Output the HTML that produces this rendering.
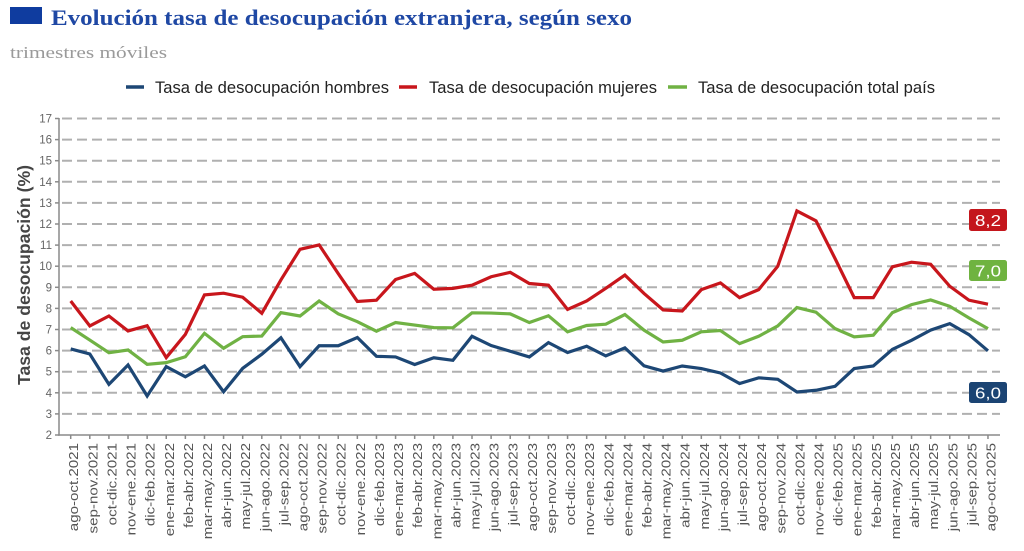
<!DOCTYPE html>
<html><head><meta charset="utf-8"><style>
html,body{margin:0;padding:0;background:#fff;}
svg{display:block;}
</style></head><body>
<svg width="1024" height="551" viewBox="0 0 1024 551" xmlns="http://www.w3.org/2000/svg">
<rect x="0" y="0" width="1024" height="551" fill="#fff"/>
<!-- title -->
<rect x="10" y="7" width="32" height="17" fill="#0f3c9f"/>
<text x="51" y="25" font-family="Liberation Serif, serif" font-weight="bold" font-size="22" fill="#1f48a4" textLength="581" lengthAdjust="spacingAndGlyphs">Evolución tasa de desocupación extranjera, según sexo</text>
<text x="10" y="58" font-family="Liberation Serif, serif" font-size="17" fill="#9a9a9a" textLength="157" lengthAdjust="spacingAndGlyphs">trimestres móviles</text>
<!-- legend -->
<g font-family="Liberation Sans, sans-serif" font-size="16.4" fill="#222">
<line x1="126" y1="87" x2="144" y2="87" stroke="#1d4775" stroke-width="3.5"/>
<text x="155" y="93" textLength="234" lengthAdjust="spacingAndGlyphs">Tasa de desocupación hombres</text>
<line x1="399" y1="87" x2="417" y2="87" stroke="#c8161c" stroke-width="3.5"/>
<text x="429" y="93" textLength="228" lengthAdjust="spacingAndGlyphs">Tasa de desocupación mujeres</text>
<line x1="668" y1="87" x2="687" y2="87" stroke="#70b244" stroke-width="3.5"/>
<text x="698" y="93" textLength="237" lengthAdjust="spacingAndGlyphs">Tasa de desocupación total país</text>
</g>
<!-- y title -->
<text transform="translate(30,275) rotate(-90)" text-anchor="middle" font-family="Liberation Sans, sans-serif" font-weight="bold" font-size="17.5" fill="#454545" textLength="220" lengthAdjust="spacingAndGlyphs">Tasa de desocupación (%)</text>
<!-- gridlines -->
<g stroke="#b0b0b0" stroke-width="2" stroke-dasharray="10,5">
<line x1="62" x2="1000" y1="118.5" y2="118.5"/>
<line x1="62" x2="1000" y1="139.6" y2="139.6"/>
<line x1="62" x2="1000" y1="160.7" y2="160.7"/>
<line x1="62" x2="1000" y1="181.8" y2="181.8"/>
<line x1="62" x2="1000" y1="202.9" y2="202.9"/>
<line x1="62" x2="1000" y1="224.0" y2="224.0"/>
<line x1="62" x2="1000" y1="245.1" y2="245.1"/>
<line x1="62" x2="1000" y1="266.2" y2="266.2"/>
<line x1="62" x2="1000" y1="287.3" y2="287.3"/>
<line x1="62" x2="1000" y1="308.4" y2="308.4"/>
<line x1="62" x2="1000" y1="329.5" y2="329.5"/>
<line x1="62" x2="1000" y1="350.6" y2="350.6"/>
<line x1="62" x2="1000" y1="371.7" y2="371.7"/>
<line x1="62" x2="1000" y1="392.8" y2="392.8"/>
<line x1="62" x2="1000" y1="413.9" y2="413.9"/>
</g>
<!-- axes -->
<g stroke="#8a8a8a" stroke-width="1.5">
<line x1="59" y1="118" x2="59" y2="435.8"/>
<line x1="58.3" y1="435" x2="1000" y2="435"/>
<line x1="55" x2="59" y1="118.5" y2="118.5"/><line x1="55" x2="59" y1="139.6" y2="139.6"/><line x1="55" x2="59" y1="160.7" y2="160.7"/><line x1="55" x2="59" y1="181.8" y2="181.8"/><line x1="55" x2="59" y1="202.9" y2="202.9"/><line x1="55" x2="59" y1="224" y2="224"/><line x1="55" x2="59" y1="245.1" y2="245.1"/><line x1="55" x2="59" y1="266.2" y2="266.2"/><line x1="55" x2="59" y1="287.3" y2="287.3"/><line x1="55" x2="59" y1="308.4" y2="308.4"/><line x1="55" x2="59" y1="329.5" y2="329.5"/><line x1="55" x2="59" y1="350.6" y2="350.6"/><line x1="55" x2="59" y1="371.7" y2="371.7"/><line x1="55" x2="59" y1="392.8" y2="392.8"/><line x1="55" x2="59" y1="413.9" y2="413.9"/><line x1="55" x2="59" y1="435" y2="435"/>
</g>
<g transform="translate(70.7,435) scale(19.11,1)" stroke="#8a8a8a" stroke-width="1.5">
<path vector-effect="non-scaling-stroke" d="M0,0V4M1,0V4M2,0V4M3,0V4M4,0V4M5,0V4M6,0V4M7,0V4M8,0V4M9,0V4M10,0V4M11,0V4M12,0V4M13,0V4M14,0V4M15,0V4M16,0V4M17,0V4M18,0V4M19,0V4M20,0V4M21,0V4M22,0V4M23,0V4M24,0V4M25,0V4M26,0V4M27,0V4M28,0V4M29,0V4M30,0V4M31,0V4M32,0V4M33,0V4M34,0V4M35,0V4M36,0V4M37,0V4M38,0V4M39,0V4M40,0V4M41,0V4M42,0V4M43,0V4M44,0V4M45,0V4M46,0V4M47,0V4M48,0V4"/>
</g>
<!-- y tick labels -->
<g font-family="Liberation Sans, sans-serif" font-size="11.5" fill="#666" text-anchor="end">
<text x="52" y="122.5">17</text><text x="52" y="143.6">16</text><text x="52" y="164.7">15</text><text x="52" y="185.8">14</text><text x="52" y="206.9">13</text><text x="52" y="228">12</text><text x="52" y="249.1">11</text><text x="52" y="270.2">10</text><text x="52" y="291.3">9</text><text x="52" y="312.4">8</text><text x="52" y="333.5">7</text><text x="52" y="354.6">6</text><text x="52" y="375.7">5</text><text x="52" y="396.8">4</text><text x="52" y="417.9">3</text><text x="52" y="439">2</text>
</g>
<!-- x labels -->
<g font-family="Liberation Sans, sans-serif" font-size="12.5" fill="#555" text-anchor="end">
<text transform="translate(78.2,443) rotate(-90) scale(1.21,1)">ago-oct.2021</text>
<text transform="translate(97.3,443) rotate(-90) scale(1.21,1)">sep-nov.2021</text>
<text transform="translate(116.4,443) rotate(-90) scale(1.21,1)">oct-dic.2021</text>
<text transform="translate(135.5,443) rotate(-90) scale(1.21,1)">nov-ene.2021</text>
<text transform="translate(154.6,443) rotate(-90) scale(1.21,1)">dic-feb.2022</text>
<text transform="translate(173.8,443) rotate(-90) scale(1.21,1)">ene-mar.2022</text>
<text transform="translate(192.9,443) rotate(-90) scale(1.21,1)">feb-abr.2022</text>
<text transform="translate(212.0,443) rotate(-90) scale(1.21,1)">mar-may.2022</text>
<text transform="translate(231.1,443) rotate(-90) scale(1.21,1)">abr-jun.2022</text>
<text transform="translate(250.2,443) rotate(-90) scale(1.21,1)">may-jul.2022</text>
<text transform="translate(269.3,443) rotate(-90) scale(1.21,1)">jun-ago.2022</text>
<text transform="translate(288.4,443) rotate(-90) scale(1.21,1)">jul-sep.2022</text>
<text transform="translate(307.5,443) rotate(-90) scale(1.21,1)">ago-oct.2022</text>
<text transform="translate(326.6,443) rotate(-90) scale(1.21,1)">sep-nov.2022</text>
<text transform="translate(345.7,443) rotate(-90) scale(1.21,1)">oct-dic.2022</text>
<text transform="translate(364.9,443) rotate(-90) scale(1.21,1)">nov-ene.2022</text>
<text transform="translate(384.0,443) rotate(-90) scale(1.21,1)">dic-feb.2023</text>
<text transform="translate(403.1,443) rotate(-90) scale(1.21,1)">ene-mar.2023</text>
<text transform="translate(422.2,443) rotate(-90) scale(1.21,1)">feb-abr.2023</text>
<text transform="translate(441.3,443) rotate(-90) scale(1.21,1)">mar-may.2023</text>
<text transform="translate(460.4,443) rotate(-90) scale(1.21,1)">abr-jun.2023</text>
<text transform="translate(479.5,443) rotate(-90) scale(1.21,1)">may-jul.2023</text>
<text transform="translate(498.6,443) rotate(-90) scale(1.21,1)">jun-ago.2023</text>
<text transform="translate(517.7,443) rotate(-90) scale(1.21,1)">jul-sep.2023</text>
<text transform="translate(536.8,443) rotate(-90) scale(1.21,1)">ago-oct.2023</text>
<text transform="translate(556.0,443) rotate(-90) scale(1.21,1)">sep-nov.2023</text>
<text transform="translate(575.1,443) rotate(-90) scale(1.21,1)">oct-dic.2023</text>
<text transform="translate(594.2,443) rotate(-90) scale(1.21,1)">nov-ene.2023</text>
<text transform="translate(613.3,443) rotate(-90) scale(1.21,1)">dic-feb.2024</text>
<text transform="translate(632.4,443) rotate(-90) scale(1.21,1)">ene-mar.2024</text>
<text transform="translate(651.5,443) rotate(-90) scale(1.21,1)">feb-abr.2024</text>
<text transform="translate(670.6,443) rotate(-90) scale(1.21,1)">mar-may.2024</text>
<text transform="translate(689.7,443) rotate(-90) scale(1.21,1)">abr-jun.2024</text>
<text transform="translate(708.8,443) rotate(-90) scale(1.21,1)">may-jul.2024</text>
<text transform="translate(727.9,443) rotate(-90) scale(1.21,1)">jun-ago.2024</text>
<text transform="translate(747.1,443) rotate(-90) scale(1.21,1)">jul-sep.2024</text>
<text transform="translate(766.2,443) rotate(-90) scale(1.21,1)">ago-oct.2024</text>
<text transform="translate(785.3,443) rotate(-90) scale(1.21,1)">sep-nov.2024</text>
<text transform="translate(804.4,443) rotate(-90) scale(1.21,1)">oct-dic.2024</text>
<text transform="translate(823.5,443) rotate(-90) scale(1.21,1)">nov-ene.2024</text>
<text transform="translate(842.6,443) rotate(-90) scale(1.21,1)">dic-feb.2025</text>
<text transform="translate(861.7,443) rotate(-90) scale(1.21,1)">ene-mar.2025</text>
<text transform="translate(880.8,443) rotate(-90) scale(1.21,1)">feb-abr.2025</text>
<text transform="translate(899.9,443) rotate(-90) scale(1.21,1)">mar-may.2025</text>
<text transform="translate(919.0,443) rotate(-90) scale(1.21,1)">abr-jun.2025</text>
<text transform="translate(938.2,443) rotate(-90) scale(1.21,1)">may-jul.2025</text>
<text transform="translate(957.3,443) rotate(-90) scale(1.21,1)">jun-ago.2025</text>
<text transform="translate(976.4,443) rotate(-90) scale(1.21,1)">jul-sep.2025</text>
<text transform="translate(995.5,443) rotate(-90) scale(1.21,1)">ago-oct.2025</text>
</g>
<!-- series -->
<g transform="translate(70.7,477.2) scale(19.11,-21.1)" fill="none" stroke-width="3.2" stroke-linejoin="miter" stroke-miterlimit="3">
<polyline vector-effect="non-scaling-stroke" stroke="#1d4775" points="0,6.08 1,5.84 2,4.40 3,5.32 4,3.85 5,5.24 6,4.76 7,5.27 8,4.05 9,5.16 10,5.83 11,6.61 12,5.24 13,6.23 14,6.23 15,6.62 16,5.73 17,5.70 18,5.34 19,5.66 20,5.54 21,6.68 22,6.24 23,5.97 24,5.70 25,6.38 26,5.91 27,6.21 28,5.75 29,6.13 30,5.28 31,5.03 32,5.27 33,5.15 34,4.94 35,4.44 36,4.71 37,4.64 38,4.04 39,4.12 40,4.31 41,5.15 42,5.27 43,6.06 44,6.49 45,6.97 46,7.28 47,6.76 48,5.99"/>
<polyline vector-effect="non-scaling-stroke" stroke="#c8161c" points="0,8.35 1,7.17 2,7.64 3,6.93 4,7.18 5,5.67 6,6.77 7,8.64 8,8.72 9,8.53 10,7.77 11,9.35 12,10.80 13,11.01 14,9.65 15,8.33 16,8.39 17,9.37 18,9.66 19,8.91 20,8.95 21,9.10 22,9.50 23,9.71 24,9.18 25,9.10 26,7.95 27,8.35 28,8.95 29,9.58 30,8.71 31,7.93 32,7.88 33,8.89 34,9.21 35,8.51 36,8.89 37,10.0 38,12.62 39,12.15 40,10.36 41,8.51 42,8.51 43,9.97 44,10.19 45,10.09 46,9.05 47,8.39 48,8.2"/>
<polyline vector-effect="non-scaling-stroke" stroke="#70b244" points="0,7.09 1,6.5 2,5.9 3,6.03 4,5.35 5,5.43 6,5.71 7,6.82 8,6.11 9,6.66 10,6.69 11,7.8 12,7.64 13,8.35 14,7.74 15,7.37 16,6.92 17,7.33 18,7.21 19,7.09 20,7.08 21,7.79 22,7.78 23,7.74 24,7.33 25,7.65 26,6.89 27,7.19 28,7.25 29,7.71 30,6.97 31,6.41 32,6.49 33,6.89 34,6.95 35,6.33 36,6.68 37,7.17 38,8.04 39,7.82 40,7.04 41,6.65 42,6.73 43,7.8 44,8.18 45,8.40 46,8.10 47,7.55 48,7.04"/>
</g>
<!-- end labels -->
<g font-family="Liberation Sans, sans-serif" font-size="16" fill="#fff" text-anchor="middle">
<rect x="969" y="209" width="38" height="22" rx="2.5" fill="#c4161c"/>
<text x="988" y="226" textLength="26" lengthAdjust="spacingAndGlyphs">8,2</text>
<rect x="969" y="260" width="38" height="21" rx="2.5" fill="#6fb340"/>
<text x="988" y="276.5" textLength="26" lengthAdjust="spacingAndGlyphs">7,0</text>
<rect x="969" y="382" width="38" height="21" rx="2.5" fill="#1b4473"/>
<text x="988" y="398.5" textLength="26" lengthAdjust="spacingAndGlyphs">6,0</text>
</g>
</svg>
</body></html>
